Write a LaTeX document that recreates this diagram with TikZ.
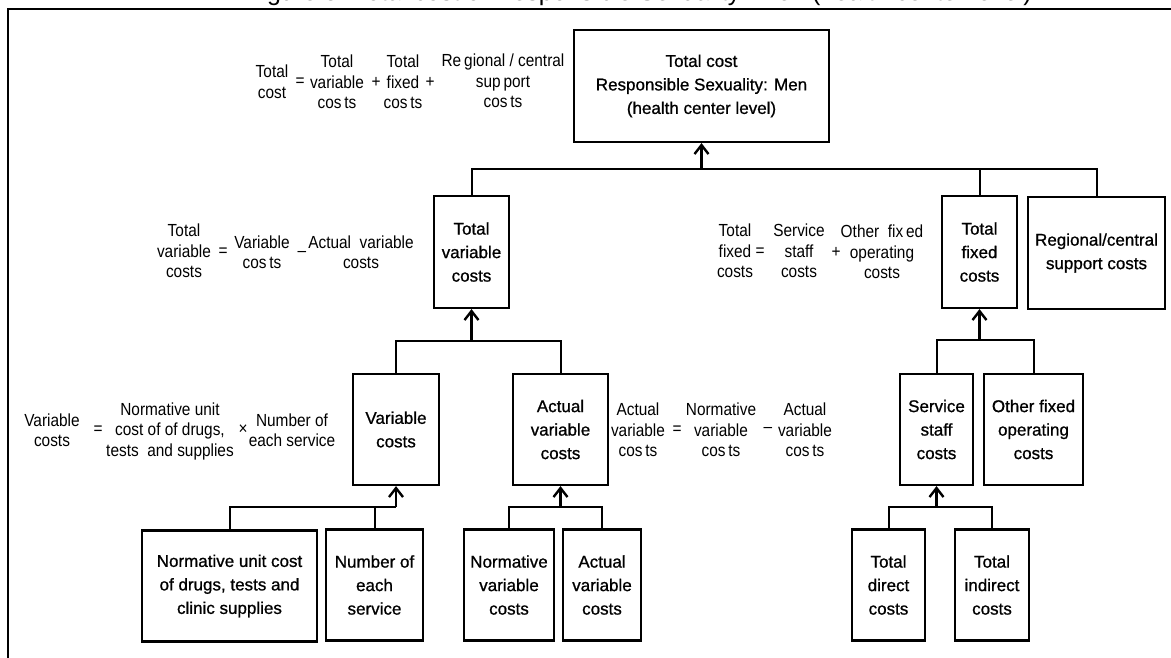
\documentclass[tikz,border=0pt]{standalone}
\usepackage{fontspec}
\setmainfont{Liberation Sans}
\newfontfamily\narrowfont[FakeStretch=0.88]{Liberation Sans}
\newfontfamily\boxfont[FakeBold=0.9]{Liberation Sans}
\usetikzlibrary{arrows.meta}

\begin{document}
\begin{tikzpicture}[
    x=1pt, y=-1pt,
    cost box/.style={draw, line width=2.2pt, inner sep=0pt, align=center, minimum height=112pt, font=\boxfont\fontsize{17}{23.5}\selectfont},
    eq text/.style={inner sep=0pt, align=center, font=\narrowfont\fontsize{17.5}{20.5}\selectfont},
    link/.style={-, line width=2pt},
    arrow link/.style={-{Straight Barb[length=9pt,width=14pt]}, line width=2.4pt},
    frame line/.style={line width=2.5pt}
]

\useasboundingbox (0,0) rectangle (1171,657);
\clip (0,0) rectangle (1171,657);

% Title (cut off at the top)
\node[font=\fontsize{25}{28}\selectfont, anchor=base east, inner sep=0pt] (title) at (1032,0.5) {Figure 5: Total cost of Responsible Sexuality: Men (health center level)};

% Frame
\draw[frame line] (8,700) -- (8,9) -- (1200,9);

% Level 1
\node[cost box, minimum width=255pt] (top) at (701.5,86) {Total cost\\Responsible Sexuality: Men\\(health center level)};

% Level 2
\node[cost box, minimum width=75pt] (tv) at (471.5,252) {Total\\variable\\costs};
\node[cost box, minimum width=75pt] (tf) at (979.5,252) {Total\\fixed\\costs};
\node[cost box, minimum width=137pt] (rc) at (1096.5,253) {Regional/central\\support costs};

% Level 3
\node[cost box, minimum width=86pt, minimum height=111pt] (vc) at (396,429.5) {Variable\\costs};
\node[cost box, minimum width=95pt, minimum height=111pt] (av) at (560.5,429.5) {Actual\\variable\\costs};
\node[cost box, minimum width=73pt, minimum height=111pt] (ss) at (936.5,429.5) {Service\\staff\\costs};
\node[cost box, minimum width=99pt, minimum height=111pt] (of) at (1033.5,429.5) {Other fixed\\operating\\costs};

% Level 4
\node[cost box, minimum width=175pt, minimum height=111pt] (nu) at (229.5,586) {Normative unit cost\\of drugs, tests and\\clinic supplies};
\node[cost box, minimum width=97pt, minimum height=111pt] (ne) at (374.5,585) {Number of\\each\\service};
\node[cost box, minimum width=90pt, minimum height=111pt] (nv) at (509,585) {Normative\\variable\\costs};
\node[cost box, minimum width=78pt, minimum height=111pt] (ava) at (602,585) {Actual\\variable\\costs};
\node[cost box, minimum width=73pt, minimum height=111pt] (td) at (888.5,585) {Total\\direct\\costs};
\node[cost box, minimum width=74pt, minimum height=111pt] (ti) at (992,585) {Total\\indirect\\costs};

% Bus points
\coordinate (b1) at (701.5,169);
\coordinate (b2) at (471.5,341);
\coordinate (b3) at (979.5,340);
\coordinate (b4) at (396,507);
\coordinate (b5) at (560.5,507);
\coordinate (b6) at (936.5,507);

% Connections
\draw[link] (tv.north) |- (b1) -| (rc.north);
\draw[link] (tf.north) -- (tf.north |- b1);
\draw[arrow link] (b1) -- (top.south);

\draw[link] (vc.north) |- (b2) -| (av.north);
\draw[arrow link] (b2) -- (tv.south);

\draw[link] (ss.north) |- (b3) -| (of.north);
\draw[arrow link] (b3) -- (tf.south);

\draw[link] (nu.north) |- (b4);
\draw[link] (ne.north) -- (ne.north |- b4);
\draw[arrow link] (b4) -- (vc.south);

\draw[link] (nv.north) |- (b5) -| (ava.north);
\draw[arrow link] (b5) -- (av.south);

\draw[link] (td.north) |- (b6) -| (ti.north);
\draw[arrow link] (b6) -- (ss.south);

% Total cost formula
\node[eq text] (e1a) at (272,81.5) {Total\\cost};
\node[eq text] (e1b) at (300,82) {=};
\node[eq text] (e1c) at (337,82) {Total\\variable\\cos\,ts};
\node[eq text] (e1d) at (376,82) {+};
\node[eq text] (e1e) at (403,82) {Total\\fixed\\cos\,ts};
\node[eq text] (e1f) at (430,82) {+};
\node[eq text] (e1g) at (503,81) {Re\,gional / central\\sup\,port\\cos\,ts};

% Total variable formula
\node[eq text] (e2a) at (184,251) {Total\\variable\\costs};
\node[eq text] (e2b) at (223,252) {=};
\node[eq text] (e2c) at (262,252) {Variable\\cos\,ts};
\node[eq text] (e2d) at (302,254) {–};
\node[eq text] (e2e) at (361,252) {Actual\ \ variable\\costs};

% Total fixed formula
\node[eq text] (e3a) at (735,251) {Total\\fixed\\costs};
\node[eq text] (e3b) at (760,252) {=};
\node[eq text] (e3c) at (799,251) {Service\\staff\\costs};
\node[eq text] (e3d) at (836,252) {+};
\node[eq text] (e3e) at (882,252) {Other\ \ fix\,ed\\operating\\costs};

% Variable formula
\node[eq text] (e4a) at (52,430) {Variable\\costs};
\node[eq text] (e4b) at (98,430) {=};
\node[eq text] (e4c) at (170,431) {Normative unit\\cost of of drugs,\\tests\ \ and supplies};
\node[eq text] (e4d) at (243,430) {×};
\node[eq text] (e4e) at (292,430) {Number of\\each service};

% Actual variable formula
\node[eq text] (e5a) at (638,430) {Actual\\variable\\cos\,ts};
\node[eq text] (e5b) at (677,430) {=};
\node[eq text] (e5c) at (721,430) {Normative\\variable\\cos\,ts};
\node[eq text] (e5d) at (768,430) {–};
\node[eq text] (e5e) at (805,430) {Actual\\variable\\cos\,ts};

\end{tikzpicture}
\end{document}
